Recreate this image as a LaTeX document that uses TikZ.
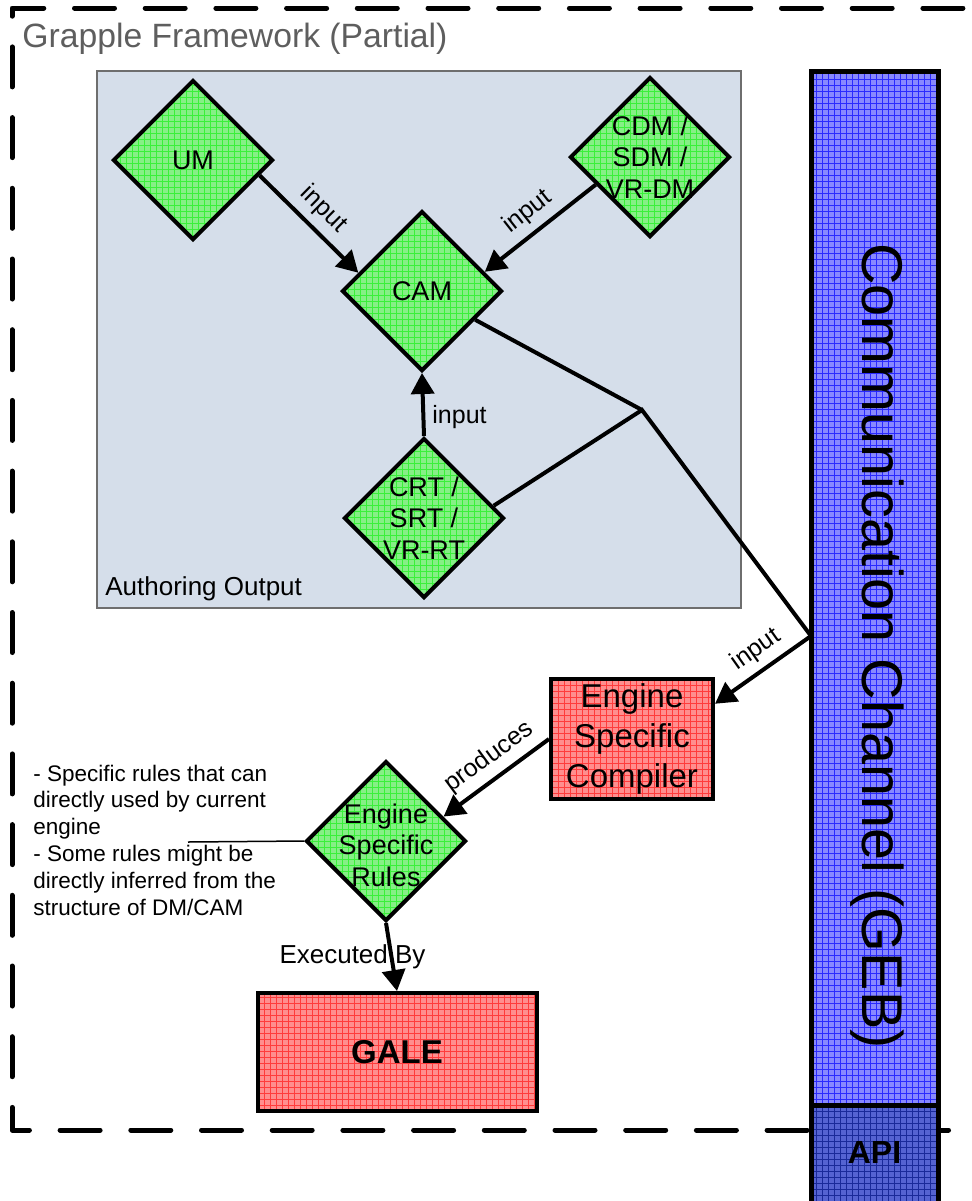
\documentclass[tikz,border=0pt]{standalone}
\usepackage{fontspec}
\setmainfont{Liberation Sans}
\usetikzlibrary{shapes.geometric, arrows.meta, patterns, positioning}

\definecolor{gfill}{HTML}{86EF86}
\definecolor{gline}{HTML}{3AF03A}
\definecolor{rfill}{HTML}{FF8E8E}
\definecolor{rline}{HTML}{FF3C3C}
\definecolor{bfill}{HTML}{8888FF}
\definecolor{bline}{HTML}{2A2AFF}
\definecolor{afill}{HTML}{4A5BC9}
\definecolor{aline}{HTML}{1A2A9A}
\definecolor{boxfill}{HTML}{D5DEEA}
\definecolor{boxline}{HTML}{6E6E6E}
\definecolor{titlegray}{HTML}{5E5E5E}

\begin{document}
\begin{tikzpicture}[x=0.5pt, y=-0.5pt,
  frame/.style={line width=2.5pt, dash pattern=on 20pt off 15.35pt, dash phase=11.8pt, line cap=round, line join=round},
  dmd/.style={diamond, draw, line width=2pt, preaction={fill=gfill}, pattern=grid, pattern color=gline, minimum width=80pt, minimum height=80pt, inner sep=0pt},
  dtxt/.style={align=center, inner sep=0pt, font=\fontsize{13.5}{15.75}\selectfont},
  blk/.style={rectangle, draw, line width=2pt, preaction={fill=rfill}, pattern=grid, pattern color=rline, align=center, inner sep=0pt},
  chan/.style={rectangle, draw, line width=2.5pt, preaction={fill=bfill}, pattern=grid, pattern color=bline, inner sep=0pt, minimum width=63.5pt},
  arr/.style={line width=2pt, -{Triangle[length=10.5pt, width=11.5pt]}},
  wire/.style={line width=2pt},
  lbl/.style={font=\fontsize{12.5}{15}\selectfont, inner sep=3.5pt},
  note/.style={align=left, inner sep=0pt, font=\fontsize{11.25}{13.4}\selectfont}]

  \useasboundingbox (0,0) rectangle (972,1201);
  \clip (0,0) rectangle (972,1201);

  \draw[frame] (1010,8) -- (12,8) -- (12,1130) -- (1010,1130);
  \node[anchor=base west, inner sep=0pt, text=titlegray, font=\fontsize{16.85}{20}\selectfont] (title) at (22,47) {Grapple Framework (Partial)};

  \node[draw=boxline, line width=0.75pt, fill=boxfill, minimum width=322pt, minimum height=268.5pt, inner sep=0pt] (auth) at (419,339.5) {};
  \node[anchor=base west, inner sep=0pt, font=\fontsize{13}{15}\selectfont] (authlbl) at (105,595) {Authoring Output};

  \node[dmd, label={[dtxt]center:UM}] (um) at (193,160) {};
  \node[dmd, label={[dtxt]center:CDM /\\SDM /\\VR-DM}] (cdm) at (650,157) {};
  \node[dmd, label={[dtxt]center:CAM}] (cam) at (422,291) {};
  \node[dmd, label={[dtxt]center:CRT /\\SRT /\\VR-RT}] (crt) at (424,518) {};
  \node[dmd, label={[dtxt, yshift=-2pt]center:Engine\\Specific\\Rules}] (esr) at (386,841) {};

  \node[blk, minimum width=81pt, minimum height=60pt, font=\fontsize{16.5}{20}\selectfont] (esc) at (632,739) {Engine\\Specific\\Compiler};
  \node[blk, minimum width=139.5pt, minimum height=59pt, font=\bfseries\fontsize{16.5}{20}\selectfont] (gale) at (397,1052) {GALE};

  \node[chan, minimum height=517pt, label={[font=\fontsize{28.75}{30}\selectfont, inner sep=0pt, yshift=-29pt, xshift=1.25pt, rotate=-90]center:Communication Channel (GEB)}] (geb) at (874.5,588) {};
  \node[chan, draw=black, preaction={fill=afill, fill opacity=0.82}, pattern color=aline, minimum height=62.5pt, label={[font=\bfseries\fontsize{16}{18}\selectfont, yshift=7.75pt]center:API}] (api) at (874.5,1167.5) {};

  \node[note, anchor=west] (rulenote) at (33,840) {- Specific rules that can\\directly used by current\\engine\\- Some rules might be\\directly inferred from the\\structure of DM/CAM};
  \coordinate (notetip) at (188,842);
  \coordinate (jn) at (642,410);
  \coordinate (tap) at (811,636);

  \draw[arr] (um.-13) -- node[lbl, above, sloped] {input} (cam.164);
  \draw[arr] (cdm.207) -- node[lbl, above, sloped] {input} (cam.17);
  \draw[arr] (crt.north) -- node[lbl, right, pos=0.3] {input} (cam.south);
  \draw[wire] (cam) -- (jn);
  \draw[wire] (crt.10) -- (jn) -- (tap);
  \draw[arr] (tap) -- node[lbl, above, sloped, pos=0.45] {input} (esc.23);
  \draw[arr] (esc.west) -- node[lbl, above, sloped, pos=0.45] {produces} (esr.23);
  \draw[arr] (esr.south) -- node[lbl, font=\fontsize{13}{15}\selectfont, xshift=-19.5pt] {Executed By} (gale.north);
  \draw[line width=0.75pt] (esr.west) -- (notetip);
\end{tikzpicture}
\end{document}
